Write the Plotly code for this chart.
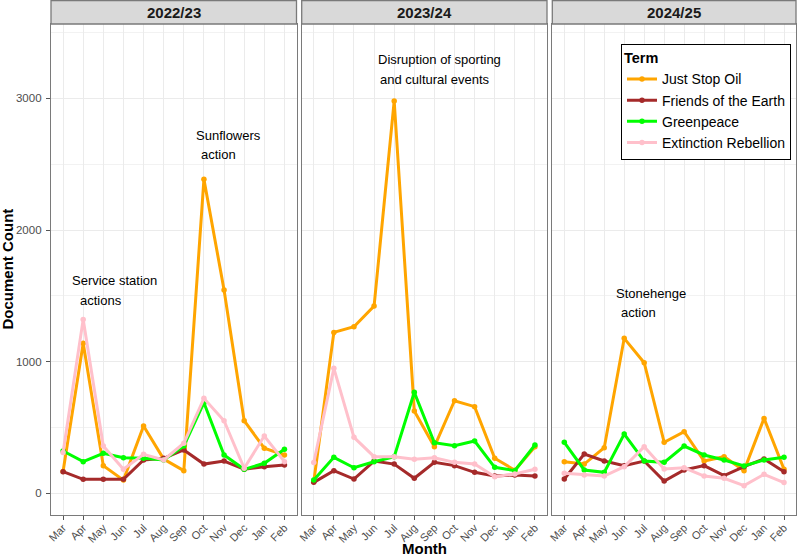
import plotly.graph_objects as go

months = ["Mar", "Apr", "May", "Jun", "Jul", "Aug", "Sep", "Oct", "Nov", "Dec", "Jan", "Feb"]
years = ["2022/23", "2023/24", "2024/25"]
terms = ["Just Stop Oil", "Friends of the Earth", "Greenpeace", "Extinction Rebellion"]
colors = ["#FFA500", "#A52A2A", "#00FF00", "#FFC0CB"]

just_stop_oil = {
    "2022/23": [165, 1139, 210, 100, 511, 260, 172, 2386, 1545, 551, 342, 291],
    "2023/24": [88, 1222, 1265, 1422, 2980, 625, 354, 703, 658, 266, 175, 354],
    "2024/25": [240, 222, 346, 1177, 992, 387, 468, 245, 278, 172, 569, 182],
}
friends_of_the_earth = {
    "2022/23": [164, 106, 106, 106, 253, 266, 329, 222, 245, 182, 202, 215],
    "2023/24": [83, 172, 108, 245, 222, 114, 235, 210, 159, 131, 139, 131],
    "2024/25": [108, 298, 245, 210, 245, 93, 177, 210, 134, 202, 261, 164],
}
greenpeace = {
    "2022/23": [321, 240, 304, 270, 266, 253, 359, 688, 291, 182, 228, 334],
    "2023/24": [101, 273, 194, 240, 278, 767, 384, 361, 397, 197, 172, 367],
    "2024/25": [387, 177, 159, 450, 245, 235, 359, 291, 253, 207, 253, 273],
}
extinction_rebellion = {
    "2022/23": [310, 1321, 359, 182, 296, 253, 380, 721, 551, 190, 435, 240],
    "2023/24": [233, 949, 425, 278, 278, 258, 270, 235, 222, 126, 147, 182],
    "2024/25": [152, 139, 131, 202, 354, 185, 194, 131, 114, 58, 144, 81],
}
series = [just_stop_oil, friends_of_the_earth, greenpeace, extinction_rebellion]

# annotations: (panel index, text lines, x index of line starts, y values of lines)
notes = [
    (0, ["Service station", "actions"], [0.33, 0.73], [1620, 1468]),
    (0, ["Sunflowers", "action"], [6.53, 6.77], [2721, 2574]),
    (1, ["Disruption of sporting", "and cultural events"], [3.09, 3.2], [3295, 3146]),
    (2, ["Stonehenge", "action"], [2.48, 2.76], [1519, 1371]),
]

FONT = "Liberation Sans, Arial, Helvetica, sans-serif"
W, H = 798, 559
ML, MR, MT, MB = 51, 2, 0, 44
pw = W - ML - MR
ph = H - MT - MB

def px_to_xpaper(p):
    return (p - ML) / pw

domains = [
    [px_to_xpaper(51), px_to_xpaper(296.5)],
    [px_to_xpaper(301.7), px_to_xpaper(547)],
    [px_to_xpaper(552.3), px_to_xpaper(796)],
]
strip_h = 24
ytop = 1 - strip_h / ph

fig = go.Figure()
for pi, yr in enumerate(years):
    xa = "x" if pi == 0 else f"x{pi+1}"
    ya = "y" if pi == 0 else f"y{pi+1}"
    for ti, term in enumerate(terms):
        fig.add_trace(go.Scatter(
            x=months, y=series[ti][yr], mode="lines+markers",
            name=term, legendgroup=term, showlegend=(pi == 0),
            line=dict(color=colors[ti], width=3),
            marker=dict(color=colors[ti], size=5.5),
            xaxis=xa, yaxis=ya,
        ))

axis_common = dict(
    type="category", categoryorder="array", categoryarray=months,
    range=[-0.6, 11.6], showgrid=True, gridcolor="#EBEBEB", gridwidth=1,
    showline=True, linecolor="#7a7a7a", linewidth=1.3, mirror=True,
    ticks="outside", ticklen=4, tickcolor="#555555", tickangle=-45,
    ticklabelstandoff=-3,
    tickfont=dict(family=FONT, size=11, color="#4D4D4D"), zeroline=False,
)
yaxis_common = dict(
    range=[-165, 3565], tickvals=[0, 1000, 2000, 3000],
    showgrid=True, gridcolor="#EBEBEB", gridwidth=1,
    minor=dict(tickvals=[500, 1500, 2500, 3500], showgrid=True,
               gridcolor="#F2F2F2", gridwidth=0.7, ticks=""),
    showline=True, linecolor="#7a7a7a", linewidth=1.3, mirror=True,
    zeroline=False, domain=[0, ytop],
    tickfont=dict(family=FONT, size=11.5, color="#4D4D4D"),
)

layout = dict(
    width=W, height=H, margin=dict(l=ML, r=MR, t=MT, b=MB),
    paper_bgcolor="white", plot_bgcolor="white",
    font=dict(family=FONT, color="black"),
    legend=dict(
        x=px_to_xpaper(791), y=1 - 43.5 / ph, xanchor="right", yanchor="top",
        bgcolor="white", bordercolor="black", borderwidth=1,
        title=dict(text="<b>Term</b>", font=dict(family=FONT, size=14.5)),
        font=dict(family=FONT, size=14), tracegroupgap=0, itemwidth=30,
    ),
)
for pi in range(3):
    suffix = "" if pi == 0 else str(pi + 1)
    xa = dict(axis_common, domain=domains[pi], anchor="y" + suffix)
    ya = dict(yaxis_common, anchor="x" + suffix)
    if pi == 0:
        ya.update(ticks="outside", ticklen=4, tickcolor="#555555", showticklabels=True,
                  ticklabelstandoff=2)
    else:
        ya.update(ticks="", showticklabels=False, matches="y")
    layout["xaxis" + suffix] = xa
    layout["yaxis" + suffix] = ya
fig.update_layout(**layout)

shapes = []
annotations = []
for pi, yr in enumerate(years):
    d0, d1 = domains[pi]
    shapes.append(dict(type="rect", xref="paper", yref="paper",
                       x0=d0, x1=d1, y0=ytop, y1=1 - 0.7 / ph,
                       fillcolor="#D9D9D9", line=dict(color="#7a7a7a", width=1.3),
                       layer="above"))
    annotations.append(dict(xref="paper", yref="paper", x=(d0 + d1) / 2,
                            y=1 - 12.5 / ph, text=f"<b>{yr}</b>", showarrow=False,
                            xanchor="center", yanchor="middle",
                            font=dict(family=FONT, size=15, color="#1A1A1A")))

for pi, lines, xs, ys in notes:
    suffix = "" if pi == 0 else str(pi + 1)
    for txt, xv, yv in zip(lines, xs, ys):
        annotations.append(dict(xref="x" + suffix, yref="y" + suffix, x=xv, y=yv,
                                text=txt, showarrow=False, xanchor="left",
                                yanchor="middle",
                                font=dict(family=FONT, size=13, color="black")))

annotations.append(dict(xref="paper", yref="paper", x=px_to_xpaper(7), y=1 - 269.5 / ph,
                        text="<b>Document Count</b>", textangle=-90, showarrow=False,
                        xanchor="center", yanchor="middle",
                        font=dict(family=FONT, size=15, color="black")))
annotations.append(dict(xref="paper", yref="paper", x=px_to_xpaper(424), y=1 - 548 / ph,
                        text="<b>Month</b>", showarrow=False,
                        xanchor="center", yanchor="middle",
                        font=dict(family=FONT, size=15, color="black")))

fig.update_layout(shapes=shapes, annotations=annotations)
fig.write_html("out.html")
